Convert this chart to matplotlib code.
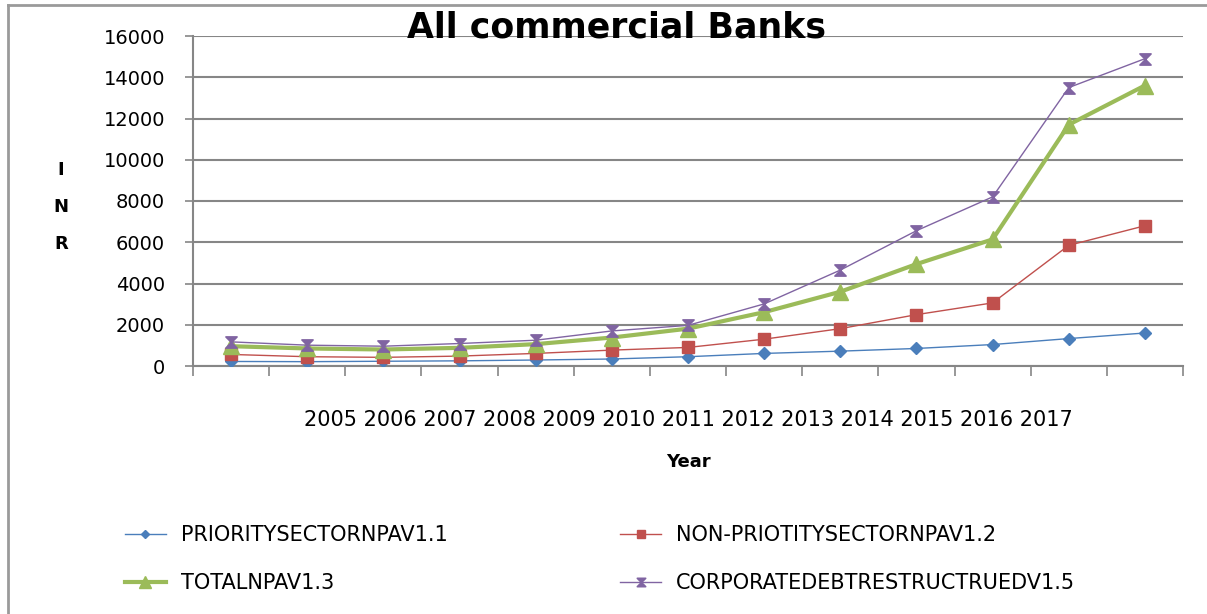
import numpy as np
import matplotlib
matplotlib.use("Agg")
import matplotlib.pyplot as plt
from matplotlib.path import Path
from matplotlib.lines import Line2D

# values (13 years, 2005-2017)
years = ["2005", "2006", "2007", "2008", "2009", "2010", "2011",
         "2012", "2013", "2014", "2015", "2016", "2017"]
priority = [220, 210, 230, 250, 290, 340, 450, 610, 720, 850, 1040, 1330, 1600]
non_priority = [560, 450, 420, 480, 610, 770, 900, 1300, 1810, 2490, 3060, 5850, 6800]
total = [960, 850, 800, 880, 1060, 1380, 1810, 2610, 3600, 4940, 6140, 11700, 13600]
corporate = [1170, 1010, 960, 1090, 1250, 1700, 1970, 3010, 4650, 6560, 8200, 13500, 14900]
series_names = ["PRIORITYSECTORNPAV1.1", "NON-PRIOTITYSECTORNPAV1.2",
                "TOTALNPAV1.3", "CORPORATEDEBTRESTRUCTRUEDV1.5"]

GRID = "#868686"
hourglass = Path([(-1, 1), (1, 1), (-1, -1), (1, -1), (-1, 1)],
                 [Path.MOVETO, Path.LINETO, Path.LINETO, Path.LINETO, Path.CLOSEPOLY])

W, H = 1207, 614
fig = plt.figure(figsize=(W / 100, H / 100), dpi=100)
ax = fig.add_axes([193 / W, 1 - 366 / H, (1183 - 193) / W, 330 / H])

x = np.arange(len(years))
styles = [
    dict(color="#4A7EBB", lw=1.0, marker="D", ms=6),
    dict(color="#C0504D", lw=1.0, marker="s", ms=8),
    dict(color="#9BBB59", lw=3.0, marker="^", ms=11),
    dict(color="#8064A2", lw=1.0, marker=hourglass, ms=8, mew=1.2),
]
data = [priority, non_priority, total, corporate]
handles = []
for vals, st in zip(data, styles):
    h, = ax.plot(x, vals, zorder=3, **st)
    handles.append(h)

ax.set_xlim(-0.5, len(years) - 0.5)
ax.set_ylim(0, 16000)
ax.set_yticks(range(0, 16001, 2000))
ax.set_xticks(np.arange(-0.5, len(years), 1))
ax.set_xticklabels([])
ax.yaxis.grid(True, color=GRID, lw=1.5)
ax.set_axisbelow(True)
for s in ["top", "right"]:
    ax.spines[s].set_visible(False)
for s in ["left", "bottom"]:
    ax.spines[s].set_color(GRID)
    ax.spines[s].set_linewidth(1.5)
ax.tick_params(axis="x", length=7, color=GRID, width=1.2)
ax.tick_params(axis="y", length=6, color=GRID, width=1.2, labelsize=14, pad=14)

# one long category label under the axis, as in the source
ax.text(0.5, -0.165, " ".join(years), transform=ax.transAxes,
        ha="center", va="center", fontsize=15)
ax.text(0.5, -0.29, "Year", transform=ax.transAxes, ha="center", va="center",
        fontsize=13, fontweight="bold")

for i, ch in enumerate("INR"):
    fig.text(61 / W, 1 - (170 + 37 * i) / H, ch, ha="center", va="center",
             fontsize=13, fontweight="bold")

fig.text(617 / W, 1 - 27 / H, "All commercial Banks", ha="center", va="center",
         fontsize=25, fontweight="bold")

# legend fills row by row in the source: reorder for matplotlib's column fill
order = [0, 2, 1, 3]
fig.legend([handles[i] for i in order], [series_names[i] for i in order],
           loc="upper left", ncol=2, bbox_to_anchor=(125 / W, 1 - 525 / H),
           frameon=False, fontsize=15, handlelength=1.95, handletextpad=0.72,
           columnspacing=8.3, labelspacing=1.35, markerscale=0.75,
           borderpad=0, borderaxespad=0)

# outer chart border
fig.add_artist(Line2D([8 / W, 8 / W], [0, 1 - 5 / H], color="#9a9a9a", lw=2))
fig.add_artist(Line2D([8 / W, 1], [1 - 5 / H, 1 - 5 / H], color="#9a9a9a", lw=2))

fig.savefig("out.png", dpi=100)
